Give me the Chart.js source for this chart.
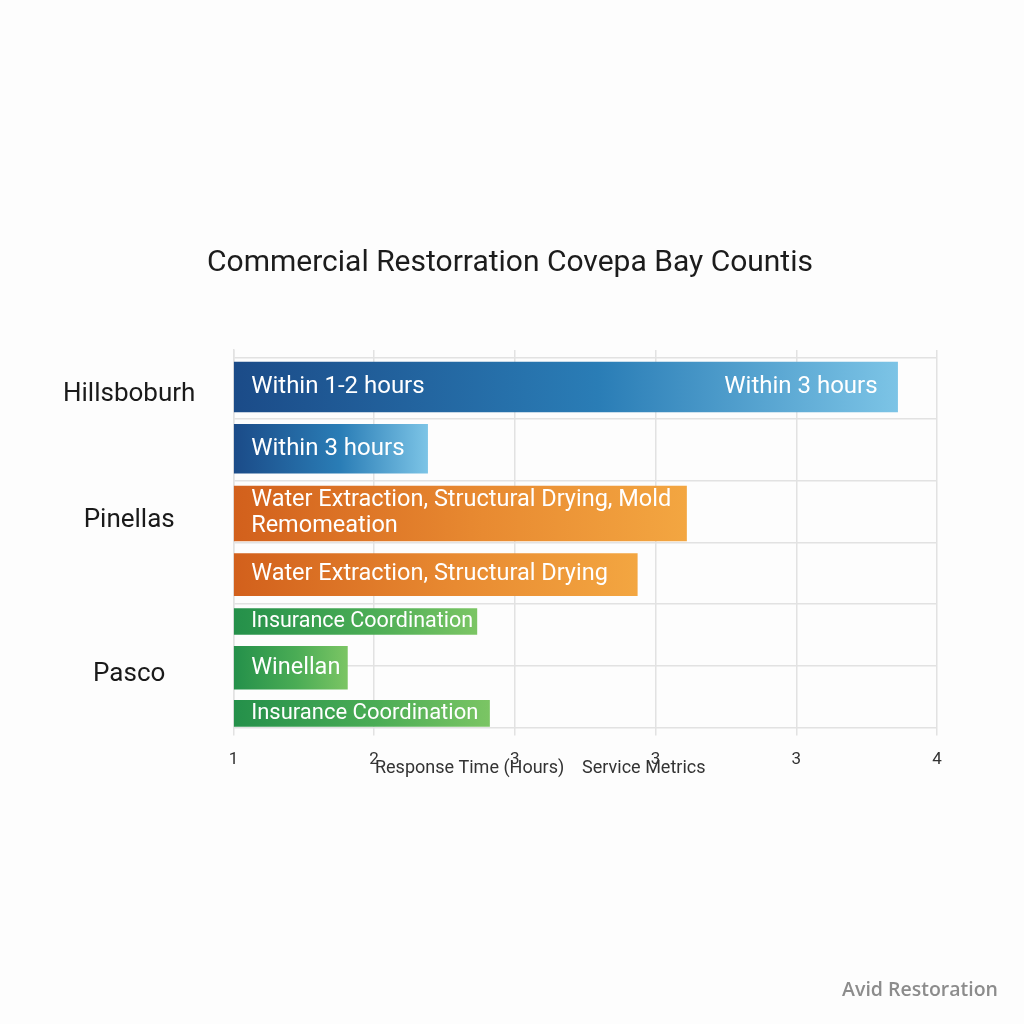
<!DOCTYPE html>
<html>
<head>
<meta charset="utf-8">
<script src="https://cdn.jsdelivr.net/npm/chart.js@4/dist/chart.umd.min.js"></script>
<style>
  html, body { margin: 0; padding: 0; background: #fff; }
  #wrap { position: relative; width: 1024px; height: 1024px; background: #fdfdfd; }
  #mark { position: absolute; right: 26px; bottom: 22px; font: 600 19.5px "Open Sans", sans-serif; color: #8c8c8c; }
</style>
</head>
<body>
<div id="wrap">
  <canvas id="restoration-chart" width="1024" height="1024"></canvas>
  <div id="mark">Avid Restoration</div>
</div>
<script>
// values
var counties = ['Hillsboburh', '', 'Pinellas', '', '', 'Pasco', ''];
var rowPos = [0.48, 1.48, 2.53, 3.52, 4.28, 5.03, 5.77];
var hours = [5.72, 2.38, 4.22, 3.87, 2.73, 1.81, 2.82];
var leftText = [
	['Within 1-2 hours'],
	['Within 3 hours'],
	['Water Extraction, Structural Drying, Mold', 'Remomeation'],
	['Water Extraction, Structural Drying'],
	['Insurance Coordination'],
	['Winellan'],
	['Insurance Coordination']
];
var rightText = ['Within 3 hours', '', '', '', '', '', ''];
var xTickLabels = ['1', '2', '3', '3', '3', '4'];
var gridRows = [0, 1, 2, 3, 4, 5, 6];

// styling
var palette = {
	blue: ['#1b4b88', '#2a7db6', '#7cc4e6'],
	orange: ['#d2601c', '#e88a31', '#f3a641'],
	green: ['#24904a', '#4aac55', '#7bc564']
};
var barColor = ['blue', 'blue', 'orange', 'orange', 'green', 'green', 'green'];
var barThick = [50, 49, 55, 42, 26, 43, 26];
var textSize = [24, 24, 23.5, 23.5, 21.5, 23.5, 22];

Chart.defaults.font.family = 'Roboto';

function barFill(c){
	var stops = palette[barColor[c.datasetIndex]];
	var chart = c.chart;
	if (!chart.chartArea){
		return stops[1];
	}
	var x = chart.scales.x;
	var x0 = x.getPixelForValue(x.min);
	var x1 = x.getPixelForValue(hours[c.datasetIndex]);
	var g = chart.ctx.createLinearGradient(x0, 0, x1, 0);
	g.addColorStop(0, stops[0]);
	g.addColorStop(0.55, stops[1]);
	g.addColorStop(1, stops[2]);
	return g;
}

var datasets = hours.map(function(h, i){
	return {
		data: [{x: h, y: rowPos[i]}],
		base: 1,
		backgroundColor: barFill,
		borderWidth: 0,
		barThickness: barThick[i],
		grouped: false
	};
});

var barLabels = {
	id: 'barLabels',
	afterDatasetsDraw: function(chart){
		var ctx = chart.ctx;
		ctx.save();
		ctx.fillStyle = '#ffffff';
		ctx.textBaseline = 'middle';
		chart.data.datasets.forEach(function(ds, i){
			var bar = chart.getDatasetMeta(i).data[0];
			var lines = leftText[i];
			var lh = 26;
			var top = bar.y - (lines.length - 1) * lh / 2;
			ctx.font = textSize[i] + 'px Roboto';
			ctx.textAlign = 'left';
			lines.forEach(function(t, k){
				ctx.fillText(t, bar.base + 17, top + k * lh);
			});
			if (rightText[i]){
				ctx.textAlign = 'right';
				ctx.fillText(rightText[i], bar.x - 20, bar.y);
			}
		});
		ctx.restore();
	}
};

var xCaption = {
	id: 'xCaption',
	afterDraw: function(chart){
		var a = chart.chartArea;
		var ctx = chart.ctx;
		ctx.save();
		ctx.font = '18px Roboto';
		ctx.fillStyle = '#333333';
		ctx.textAlign = 'center';
		ctx.textBaseline = 'middle';
		ctx.fillText('Response Time (Hours)    Service Metrics', (a.left + a.right) / 2 - 45, a.bottom + 41);
		ctx.restore();
	}
};

var ctx = document.getElementById('restoration-chart');
var restorationChart = new Chart(ctx, {
	type: 'bar',
	data: {datasets: datasets},
	plugins: [barLabels, xCaption],
	options: {
		indexAxis: 'y',
		responsive: false,
		animation: false,
		layout: {padding: {top: 0, left: 25, right: 29, bottom: 240}},
		plugins: {
			legend: {display: false},
			tooltip: {enabled: false},
			title: {
				display: true,
				text: 'Commercial Restorration Covepa Bay Countis',
				color: '#1c1c1c',
				font: {size: 30, weight: 'normal'},
				padding: {top: 245, bottom: 69}
			}
		},
		scales: {
			x: {
				type: 'linear',
				min: 1,
				max: 6,
				ticks: {
					stepSize: 1,
					color: '#333333',
					font: {size: 17},
					padding: 14,
					callback: function(v, i){ return xTickLabels[i]; }
				},
				grid: {color: '#e2e2e2', lineWidth: 1.5, tickLength: 8},
				border: {display: false}
			},
			y: {
				type: 'linear',
				reverse: true,
				offset: false,
				min: -0.12,
				max: 6,
				afterBuildTicks: function(axis){
					axis.ticks = gridRows.concat(rowPos).sort(function(a, b){ return a - b; })
						.map(function(v){ return {value: v}; });
				},
				ticks: {
					autoSkip: false,
					color: '#1a1a1a',
					font: {size: 26},
					padding: 38,
					crossAlign: 'center',
					labelOffset: 7,
					callback: function(v){
						var i = rowPos.indexOf(v);
						return (i >= 0 && counties[i]) ? counties[i] : [];
					}
				},
				grid: {
					offset: false,
					drawTicks: false,
					lineWidth: 1.5,
					color: function(c){
						return (c.tick && Number.isInteger(c.tick.value)) ? '#e2e2e2' : 'rgba(0,0,0,0)';
					}
				},
				border: {display: true, color: '#e2e2e2', width: 1.5}
			},
			// empty right-hand axis, only keeps the plot clear of the right edge
			spacer: {
				type: 'linear',
				position: 'right',
				display: true,
				ticks: {display: false},
				grid: {display: false, drawTicks: false},
				border: {display: false},
				afterFit: function(axis){
					axis.width = 58;
				}
			}
		}
	}
});
</script>
</body>
</html>
